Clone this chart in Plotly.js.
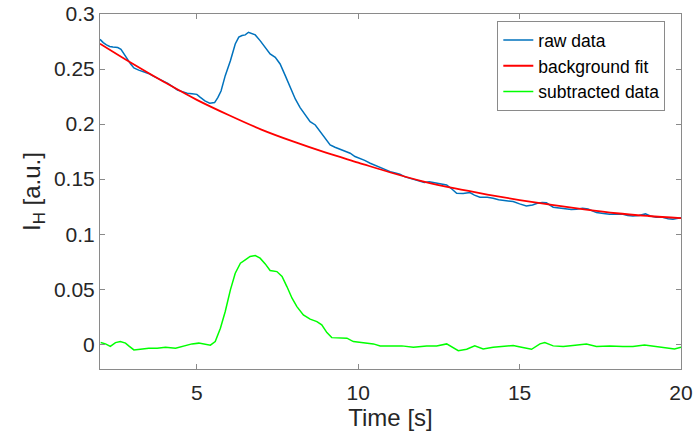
<!DOCTYPE html>
<html>
<head>
<meta charset="utf-8">
<script src="https://cdn.plot.ly/plotly-3.0.1.min.js"></script>
<style>html,body{margin:0;padding:0;background:#fff;}#chart{width:693px;height:435px;}</style>
</head>
<body>
<div id="chart"></div>
<script>
// Raw data (blue)
const rawTime = [2.00,2.10,2.20,2.30,2.40,2.55,2.65,2.75,2.85,2.95,3.05,3.20,3.35,3.50,3.65,3.80,3.95,4.10,4.25,4.40,4.55,4.70,4.85,5.00,5.10,5.25,5.40,5.55,5.65,5.75,5.88,6.04,6.19,6.30,6.40,6.50,6.60,6.70,6.81,6.96,7.12,7.27,7.43,7.58,7.74,7.89,8.05,8.20,8.35,8.51,8.67,8.82,8.98,9.13,9.28,9.44,9.60,9.75,9.90,10.06,10.20,10.37,10.52,10.68,10.85,10.99,11.15,11.29,11.45,11.60,11.75,11.91,12.05,12.20,12.32,12.50,12.74,12.90,13.05,13.25,13.46,13.60,13.77,14.00,14.18,14.35,14.49,14.65,14.80,15.00,15.21,15.40,15.55,15.70,15.83,16.04,16.25,16.45,16.60,16.76,16.95,17.12,17.25,17.38,17.60,17.79,18.00,18.20,18.35,18.51,18.70,18.90,19.05,19.23,19.40,19.60,19.75,19.90,20.00];
const rawData = [0.277,0.274,0.272,0.2705,0.270,0.2695,0.268,0.264,0.259,0.2545,0.251,0.249,0.2475,0.246,0.2435,0.2415,0.239,0.237,0.234,0.231,0.2295,0.228,0.2275,0.227,0.2245,0.221,0.219,0.2195,0.224,0.230,0.244,0.2576,0.2728,0.279,0.2805,0.281,0.2834,0.2825,0.281,0.2758,0.2697,0.2637,0.2607,0.2546,0.244,0.2334,0.2228,0.2150,0.209,0.2022,0.1992,0.1931,0.1871,0.1811,0.179,0.1771,0.1755,0.1735,0.1705,0.169,0.167,0.1644,0.1625,0.1608,0.158,0.1568,0.1555,0.1544,0.152,0.1508,0.1498,0.1485,0.147,0.1475,0.1468,0.146,0.1447,0.141,0.1372,0.137,0.1378,0.1355,0.1336,0.1335,0.1327,0.1312,0.1305,0.130,0.1296,0.1275,0.1257,0.1265,0.128,0.1287,0.1285,0.1245,0.1235,0.1227,0.1225,0.1227,0.1235,0.1229,0.121,0.1196,0.1188,0.1181,0.1182,0.118,0.117,0.1166,0.117,0.1184,0.1165,0.1154,0.1155,0.114,0.1136,0.1148,0.115];

// Background fit (red)
const fitTime = [2,3,4,5,6,7,8,9,10,11,12,13,14,15,16,17,18,19,20];
const fitData = [0.273,0.255,0.238,0.222,0.208,0.195,0.184,0.174,0.165,0.156,0.148,0.1415,0.136,0.131,0.1265,0.1225,0.119,0.1165,0.1145];

// Subtracted data (green)
const subTime = [2.02,2.17,2.32,2.48,2.63,2.79,2.89,3.05,3.25,3.51,3.77,4.03,4.34,4.59,4.85,5.06,5.26,5.42,5.57,5.73,5.88,6.04,6.19,6.35,6.50,6.65,6.81,6.96,7.12,7.27,7.48,7.64,7.79,7.95,8.10,8.30,8.51,8.72,8.87,9.03,9.18,9.44,9.65,9.85,10.26,10.47,10.68,10.99,11.35,11.71,12.12,12.43,12.74,13.10,13.36,13.61,13.87,14.18,14.49,14.80,15.06,15.37,15.63,15.78,16.04,16.35,16.65,17.07,17.38,17.79,18.20,18.51,18.87,19.23,19.54,19.80,20.00];
const subData = [0.0015,0.0003,-0.002,0.0015,0.0024,0.001,-0.0015,-0.0052,-0.0046,-0.0037,-0.0037,-0.0028,-0.0037,-0.0015,0.0003,0.001,0.0003,-0.0009,0.0024,0.0146,0.0297,0.0494,0.0645,0.0736,0.0766,0.0797,0.0806,0.0782,0.073,0.067,0.066,0.0615,0.0524,0.0418,0.0342,0.0267,0.0228,0.0206,0.0176,0.0106,0.006,0.0055,0.0055,0.0024,0.001,0.0003,-0.0015,-0.0012,-0.0015,-0.0028,-0.0015,-0.0015,0.0003,-0.0058,-0.0046,-0.0015,-0.0043,-0.0028,-0.0021,-0.0012,-0.0028,-0.0046,0.0003,0.0015,-0.0015,-0.0021,-0.0012,0.0003,-0.0021,-0.0015,-0.0021,-0.0021,-0.0006,-0.0021,-0.0028,-0.0043,-0.0028];

const seriesNames = ['raw data','background fit','subtracted data'];
const xTickVals = [5,10,15,20];
const xTickText = ['5','10','15','20'];
const yTickVals = [0,0.05,0.1,0.15,0.2,0.25,0.3];
const yTickText = ['0','0.05','0.1','0.15','0.2','0.25','0.3'];

const FONT = 'Liberation Sans, Arial, Helvetica, sans-serif';
const traces = [
  {x: rawTime, y: rawData, name: seriesNames[0], type: 'scatter', mode: 'lines', line: {color: '#0072BD', width: 1.5}},
  {x: fitTime, y: fitData, name: seriesNames[1], type: 'scatter', mode: 'lines', line: {color: '#FF0000', width: 1.8, shape: 'spline'}},
  {x: subTime, y: subData, name: seriesNames[2], type: 'scatter', mode: 'lines', line: {color: '#00FF00', width: 1.5}}
];
const axisCommon = {
  showgrid: false, zeroline: false, showline: true, mirror: 'ticks',
  linecolor: '#8a8a8a', linewidth: 1, ticks: 'inside', ticklen: 5, tickwidth: 1, tickcolor: '#8a8a8a',
  tickfont: {family: FONT, size: 21, color: '#262626'}, tickmode: 'array'
};
const layout = {
  width: 693, height: 435,
  margin: {l: 99.5, r: 11.5, t: 14, b: 66},
  paper_bgcolor: '#fff', plot_bgcolor: '#fff',
  showlegend: true,
  legend: {x: 0.973, y: 0.98, xanchor: 'right', yanchor: 'top', bgcolor: '#fff', bordercolor: '#8a8a8a', borderwidth: 1,
           font: {family: FONT, size: 17.5, color: '#000'}, tracegroupgap: 0},
  xaxis: Object.assign({}, axisCommon, {range: [2, 20], tickvals: xTickVals, ticktext: xTickText, ticklabelstandoff: 5,
    title: {text: 'Time [s]', font: {family: FONT, size: 24, color: '#262626'}, standoff: 2}}),
  yaxis: Object.assign({}, axisCommon, {range: [-0.0225, 0.3], tickvals: yTickVals, ticktext: yTickText,
    title: {text: 'I<sub>H</sub> [a.u.]', font: {family: FONT, size: 24, color: '#262626'}, standoff: 6}})
};
Plotly.newPlot('chart', traces, layout, {displayModeBar: false, staticPlot: true});
</script>
</body>
</html>
